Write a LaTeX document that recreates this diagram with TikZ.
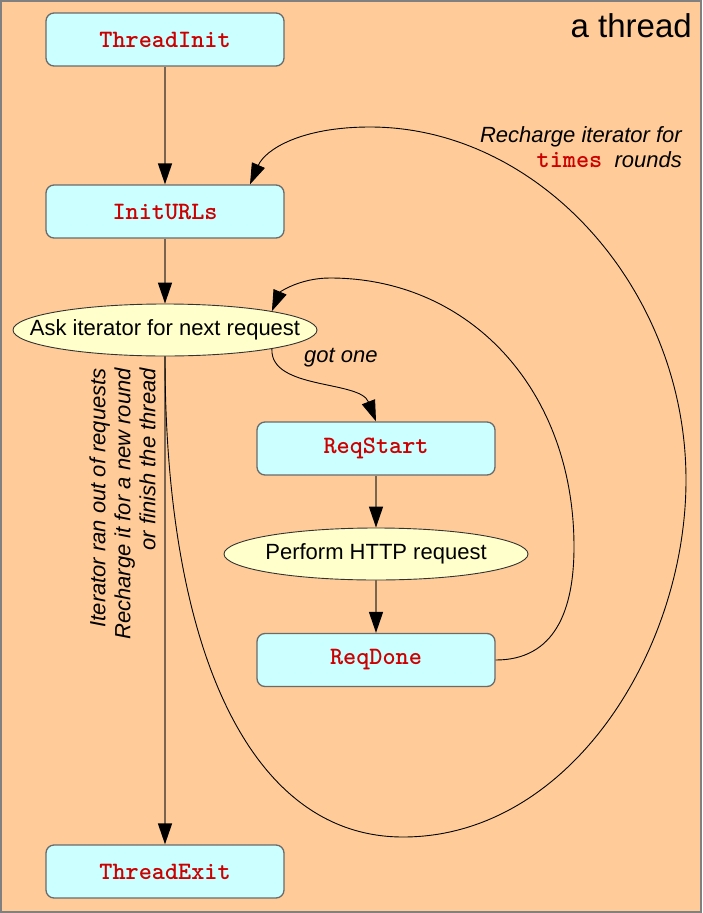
\documentclass[tikz,border=0pt]{standalone}
\usepackage{fontspec}
\setmainfont{Liberation Sans}
\usetikzlibrary{arrows.meta,shapes.geometric}
\definecolor{bgpeach}{HTML}{FFCC99}
\definecolor{boxfill}{HTML}{CCFFFF}
\definecolor{ellfill}{HTML}{FFFFCC}
\definecolor{codered}{HTML}{CC0000}
\definecolor{boxborder}{HTML}{6A6A6A}
\definecolor{linkcol}{HTML}{7A6650}
\definecolor{framecol}{HTML}{808080}
\newcommand\codefont{\ttfamily\bfseries\fontsize{25}{28}\selectfont}
\tikzset{
  statebox/.style={draw=boxborder, line width=1.3pt, fill=boxfill, rounded corners=8pt,
    minimum width=238pt, minimum height=53pt, inner sep=0pt,
    font=\codefont, text=codered},
  actell/.style={ellipse, draw=black!80, line width=0.9pt, fill=ellfill,
    minimum width=304pt, minimum height=52pt, inner sep=0pt},
  elltext/.style={font=\fontsize{22}{26}\selectfont, inner sep=0pt},
  flow/.style={draw=linkcol, line width=1.5pt,
    -{Triangle[length=21pt,width=14pt,color=black]}},
  loopline/.style={draw=black, line width=0.9pt,
    -{Triangle[length=21pt,width=14pt,color=black]}},
  note/.style={font=\itshape\fontsize{22}{25}\selectfont, inner sep=0pt}
}
\begin{document}
\begin{tikzpicture}[x=1pt,y=-1pt]
\useasboundingbox (0,0) rectangle (702,913);
\draw[framecol, line width=1.5pt, fill=bgpeach] (1,1) rectangle (701,912);

\node[anchor=base east, inner sep=0pt, font=\fontsize{33}{36}\selectfont] (title) at (692,37) {a thread};

\node[statebox] (ti) at (165,39.5) {ThreadInit};
\node[statebox] (iu) at (165,211.5) {InitURLs};
\node[actell, label={[elltext]center:Ask iterator for next request}] (ask) at (165,330) {};
\node[statebox] (rs) at (376,448.5) {ReqStart};
\node[actell, label={[elltext]center:Perform HTTP request}] (http) at (376,554) {};
\node[statebox] (rd) at (376,660) {ReqDone};
\node[statebox] (te) at (165,871.5) {ThreadExit};

\draw[flow] (ti.south) -- (iu.north);
\draw[flow] (iu.south) -- (ask.north);
\draw[flow] (ask.south) -- (te.north);
\draw[flow] (rs.south) -- (http.north);
\draw[flow] (http.south) -- (rd.north);

% got one
\draw[loopline] (ask.-10) .. controls (270,390) and (360,380) .. (rs.north);
\node[note, anchor=base west] (gotone) at (304,362) {got one};

% request loop
\draw[loopline] (rd.east) .. controls (555,660) and (574,610) .. (574,547)
  .. controls (574,390) and (470,278) .. (330,278)
  .. controls (300,278) and (280,292) .. (ask.10);

% recharge loop
\draw[loopline] (ask.south) .. controls (165,650) and (250,837) .. (403,837)
  .. controls (570,837) and (686,650) .. (686,480)
  .. controls (686,290) and (540,127) .. (370,127)
  .. controls (300,127) and (265,150) .. ([xshift=85pt]iu.north);

\node[note, anchor=base east, align=right] (recharge) at (682,167)
  {Recharge iterator for\\{\upshape\ttfamily\bfseries\fontsize{25}{25}\selectfont\color{codered}times}\ \ rounds};

\node[note, rotate=90, anchor=east, align=right] (outof) at (122.5,368)
  {Iterator ran out of requests\\Recharge it for a new round\\or finish the thread};
\end{tikzpicture}
\end{document}
